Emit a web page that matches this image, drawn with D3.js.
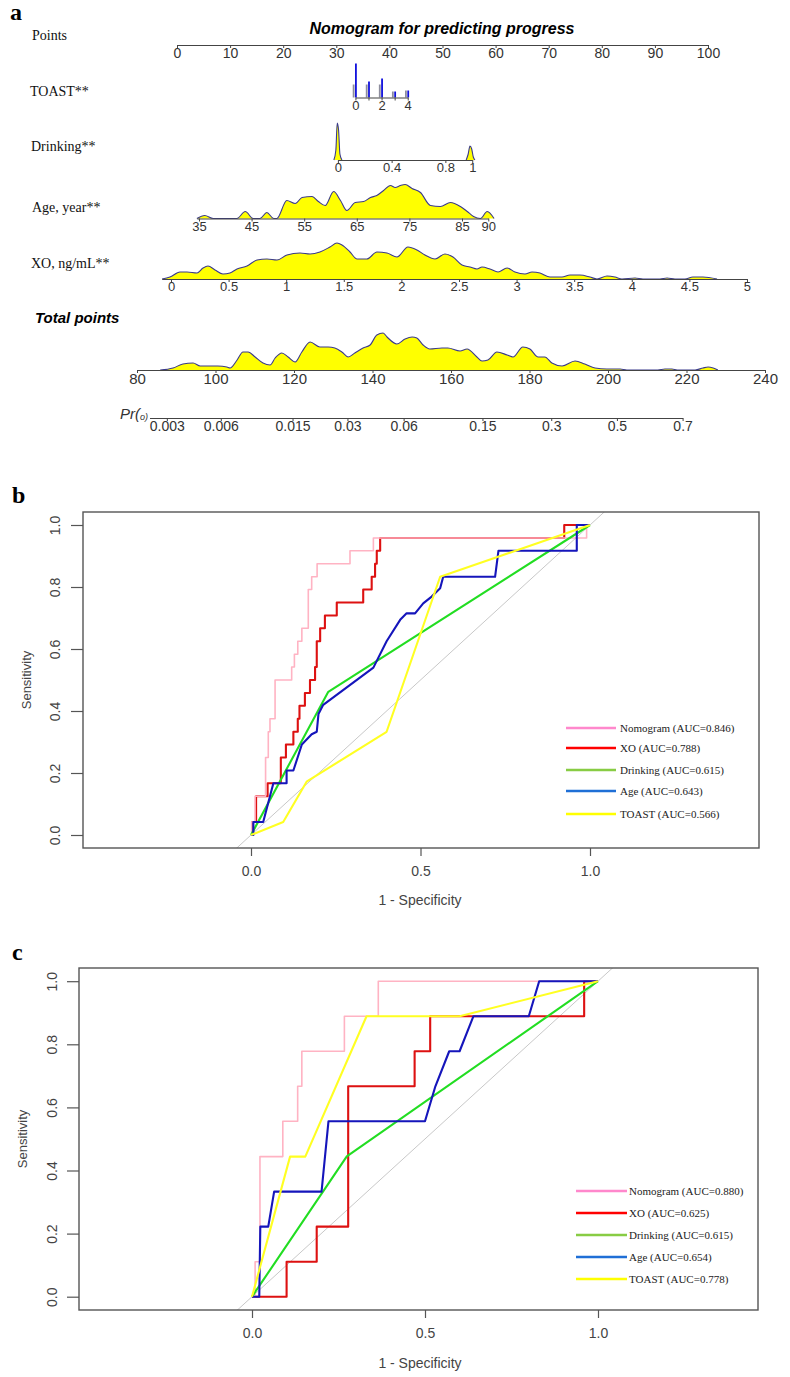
<!DOCTYPE html>
<html><head><meta charset="utf-8">
<script src="https://cdn.jsdelivr.net/npm/d3@7"></script>
<style>body{margin:0;background:#fff}svg{display:block}</style>
</head><body>
<script>
// ================= DATA =================
// --- Nomogram (panel a) ---
const pointsTicks = [0,10,20,30,40,50,60,70,80,90,100];
const toastValues = [0,1,2,3,4];
const toastTickLabels = [0,2,4];
const toastCounts = [34,16,19,6,7];
const toastPoints = [[0,33.6],[4,43.45]];          // value -> points
const drinkingTicks = [0,0.4,0.8,1];
const drinkingPoints = [[0,30.3],[1,55.6]];
const drinkPeak0 = [[-0.03,0],[-0.015,10],[-0.005,37],[0.005,30],[0.015,6],[0.03,0]];
const drinkPeak1 = [[0.955,0],[0.97,6],[0.983,14],[0.996,11],[1.008,3],[1.02,0]];
const ageTicks = [35,45,55,65,75,85,90];
const agePoints = [[35,4.14],[85,53.67]];
const ageDensX = [34.6,36.1,37.7,42.2,43.8,45.3,46.6,47.9,49.2,49.8,51.7,53.3,54.6,56.5,57.7,59.0,60.6,61.9,63.1,64.7,66.3,67.6,68.8,70.1,71.4,72.3,73.3,74.2,75.5,77.1,79.0,80.9,82.8,84.7,86.0,87.2,88.5,89.8,91.1];
const ageDensY = [0,3,0,0,7,0,0,6,0,0,18,15,21,22,17,13,27,18,8,16,17,21,23,28,33,31,33,34,30,26,13,12,16,12,7,2,0,7,0];
const xoTicks = [0,0.5,1,1.5,2,2.5,3,3.5,4,4.5,5];
const xoPoints = [[0,-1.13],[5,107.34]];
const xoDensX = [-0.078,-0.009,0.078,0.139,0.226,0.278,0.321,0.382,0.451,0.512,0.573,0.66,0.747,0.833,0.92,1.007,1.12,1.207,1.293,1.38,1.441,1.484,1.554,1.615,1.701,1.788,1.875,1.962,2.057,2.135,2.205,2.292,2.378,2.448,2.526,2.595,2.656,2.7,2.769,2.839,2.917,2.986,3.073,3.134,3.203,3.29,3.394,3.464,3.55,3.637,3.698,3.785,3.854,3.915,4.028,4.097,4.245,4.306,4.375,4.462,4.531,4.618,4.74];
const xoDensY = [0,2,7,7,6,11,13,9,5,6,10,13,19,20,19,24,26,25,27,32,36,34,27,20,20,27,26,22,32,29,24,20,25,22,14,12,10,12,10,7,11,7,5,7,6,2,2,4,4,2,0,3,2,0,1,0,0,1,0,0,2,2,0];
const totalTicks = [80,100,120,140,160,180,200,220,240];
const totDensX = [85.9,89.2,91.7,94.3,96.1,98.6,100.6,102.9,103.7,105.5,107,108.3,110.1,112.1,113.9,115.2,116.9,118.5,120.3,122,124.1,126.6,128.7,130.4,132.2,133.8,135.5,137.6,139.4,141.1,142.7,143.7,146.2,148.3,150.1,151.3,152.9,154.6,157.7,159.2,162.3,164.1,166.6,167.9,169.4,171.7,174.3,175.8,178.3,180.1,182.2,183.9,185.7,188.3,191.6,194.1,196.7,199.7,203.1,204.8,212.7,214.5,216.3,217.6,222.2,224.2,225.5,226.8,228];
const totDensY = [0,2,6,7,4,4,4,3,2,10,18,18,13,7,5,12,17,13,8,18,28,23,23,22,18,13,17,22,25,35,37,33,26,31,33,32,25,21,22,22,19,21,13,9,10,18,15,13,23,21,13,13,7,4,9,6,2,1,1,0,0,1,1,0,0,2,3,2,0];
const prTicks = [0.003,0.006,0.015,0.03,0.06,0.15,0.3,0.5,0.7];
const prAnchorTotal = 87.6;   // total points where Pr = 0.003
const prPointsPerLogit = 19.75;

// --- ROC panel b (training) ---
const rocTicksX = [0,0.5,1];
const rocTicksY = [0,0.2,0.4,0.6,0.8,1];
const nomoB = [[0,0],[0.002,0],[0.002,0.042],[0.012,0.042],[0.012,0.125],[0.043,0.125],[0.043,0.25],[0.051,0.25],[0.051,0.333],[0.056,0.333],[0.056,0.375],[0.071,0.375],[0.071,0.5],[0.12,0.5],[0.12,0.542],[0.128,0.542],[0.128,0.583],[0.138,0.583],[0.138,0.625],[0.15,0.625],[0.15,0.667],[0.169,0.667],[0.169,0.792],[0.179,0.792],[0.179,0.833],[0.195,0.833],[0.195,0.875],[0.292,0.875],[0.292,0.917],[0.361,0.917],[0.361,0.958],[0.99,0.958],[0.99,1],[1,1]];
const xoB = [[0,0],[0.004,0],[0.004,0.042],[0.015,0.042],[0.015,0.125],[0.049,0.125],[0.049,0.167],[0.088,0.167],[0.088,0.25],[0.103,0.25],[0.103,0.292],[0.125,0.292],[0.125,0.333],[0.138,0.333],[0.138,0.375],[0.143,0.375],[0.143,0.417],[0.159,0.417],[0.159,0.458],[0.174,0.458],[0.174,0.5],[0.189,0.5],[0.189,0.542],[0.194,0.542],[0.194,0.625],[0.204,0.625],[0.204,0.667],[0.218,0.667],[0.218,0.708],[0.253,0.708],[0.253,0.75],[0.331,0.75],[0.331,0.792],[0.356,0.792],[0.356,0.833],[0.366,0.833],[0.366,0.875],[0.371,0.875],[0.371,0.917],[0.381,0.917],[0.381,0.958],[0.924,0.958],[0.924,1],[1,1]];
const drinkingB = [[0,0],[0.228,0.462],[1,1]];
const ageB = [[0,0],[0.007,0],[0.007,0.042],[0.036,0.042],[0.066,0.167],[0.105,0.167],[0.105,0.208],[0.125,0.208],[0.15,0.292],[0.179,0.325],[0.194,0.333],[0.199,0.39],[0.213,0.42],[0.361,0.54],[0.4,0.625],[0.44,0.694],[0.459,0.715],[0.484,0.715],[0.508,0.747],[0.533,0.769],[0.558,0.796],[0.567,0.833],[0.72,0.833],[0.73,0.917],[0.961,0.917],[0.961,1],[1,1]];
const toastB = [[0,0],[0.095,0.042],[0.164,0.172],[0.4,0.333],[0.558,0.833],[1,1]];
const legendB = ["Nomogram (AUC=0.846)","XO (AUC=0.788)","Drinking (AUC=0.615)","Age (AUC=0.643)","TOAST (AUC=0.566)"];

// --- ROC panel c (validation) ---
const nomoC = [[0,0],[0.009,0],[0.009,0.111],[0.023,0.111],[0.023,0.444],[0.089,0.444],[0.089,0.556],[0.132,0.556],[0.132,0.667],[0.144,0.667],[0.144,0.778],[0.267,0.778],[0.267,0.889],[0.365,0.889],[0.365,1],[1,1]];
const xoC = [[0,0],[0.1,0],[0.1,0.111],[0.187,0.111],[0.187,0.222],[0.278,0.222],[0.278,0.667],[0.47,0.667],[0.47,0.778],[0.515,0.778],[0.515,0.889],[0.96,0.889],[0.96,1],[1,1]];
const drinkingC = [[0,0],[0.274,0.445],[1,1]];
const ageC = [[0,0],[0.021,0],[0.024,0.222],[0.047,0.222],[0.064,0.333],[0.201,0.333],[0.221,0.556],[0.5,0.556],[0.53,0.667],[0.57,0.778],[0.6,0.778],[0.64,0.889],[0.8,0.889],[0.83,1],[1,1]];
const toastC = [[0,0],[0.11,0.444],[0.154,0.444],[0.331,0.889],[0.6,0.889],[1,1]];
const legendC = ["Nomogram (AUC=0.880)","XO (AUC=0.625)","Drinking (AUC=0.615)","Age (AUC=0.654)","TOAST (AUC=0.778)"];

const curveColors = ["#ffb3c3","#dd1111","#22dd22","#1515bb","#ffff22"];
const legendColors = ["#ff88cc","#ff0000","#88cc44","#1f6fd6","#ffff00"];

// ================= DRAW =================
const W = 790, H = 1377;
const svg = d3.select("body").append("svg").attr("width", W).attr("height", H);
const SANS = "Arial, 'Liberation Sans', sans-serif";
const SERIF = "'Times New Roman', 'Liberation Serif', serif";

// panel letters
[["a",10,20],["b",12,503],["c",12,960]].forEach(([t,x,y]) =>
  svg.append("text").attr("x",x).attr("y",y).text(t)
    .attr("font-family",SERIF).attr("font-weight","bold").attr("font-size",24));

// ---------- Nomogram ----------
const pX = d3.scaleLinear().domain([0,100]).range([177,708]);
const dens = d3.scaleLinear().domain([0,40]).range([0,40]);
function varScale(map, domain){
  const toPts = d3.scaleLinear().domain([map[0][0],map[1][0]]).range([map[0][1],map[1][1]]);
  return d3.scaleLinear().domain(domain).range(domain.map(v => pX(toPts(v))));
}
function drawAxis(scale, y, ticks, fmt, fs){
  const ax = d3.axisBottom(scale).tickValues(ticks).tickFormat(fmt)
    .tickSize(3).tickSizeOuter(0).tickPadding(0);
  const g = svg.append("g").attr("transform",`translate(0,${y})`).call(ax);
  g.select(".domain").attr("stroke","#444").attr("stroke-width",1.1);
  g.selectAll(".tick line").attr("stroke","#444");
  g.selectAll(".tick text").attr("font-family",SANS).attr("font-size",fs).attr("fill","#333");
  return g;
}
function drawDensity(scale, y, pts){
  const area = d3.area().x(d=>scale(d[0])).y0(y).y1(d=>y-dens(d[1])).curve(d3.curveMonotoneX);
  const line = d3.line().x(d=>scale(d[0])).y(d=>y-dens(d[1])).curve(d3.curveMonotoneX);
  svg.append("path").attr("d",area(pts)).attr("fill","#ffff00");
  svg.append("path").attr("d",line(pts)).attr("fill","none").attr("stroke","#3a3a8c").attr("stroke-width",1.1);
}
function rowLabel(t, x, y){
  svg.append("text").attr("x",x).attr("y",y).text(t)
    .attr("font-family",SERIF).attr("font-size",14).attr("fill","#111");
}

// title
svg.append("text").attr("x",442).attr("y",34).attr("text-anchor","middle")
  .text("Nomogram for predicting progress")
  .attr("font-family",SANS).attr("font-weight","bold").attr("font-style","italic").attr("font-size",16);

// Points
rowLabel("Points",32,40);
drawAxis(pX, 45, pointsTicks, d3.format("d"), 14);

// TOAST
rowLabel("TOAST**",30,95.5);
const toastX = varScale(toastPoints,[0,4]);
const yT = 97.5;
toastValues.forEach((v,i)=>{
  const h = dens(toastCounts[i]);
  svg.append("line").attr("x1",toastX(v)-1.8).attr("x2",toastX(v)-1.8).attr("y1",yT).attr("y2",yT-Math.min(h,13))
    .attr("stroke","#8d8d9d").attr("stroke-width",1.8);
  svg.append("line").attr("x1",toastX(v)+0.5).attr("x2",toastX(v)+0.5).attr("y1",yT).attr("y2",yT-h)
    .attr("stroke","#1010dd").attr("stroke-width",1.8);
});
drawAxis(toastX, yT, toastValues, d=>toastTickLabels.includes(d)?d:"", 13);

// Drinking
rowLabel("Drinking**",31,151);
const drinkX = varScale(drinkingPoints,[0,1]);
const yD = 160;
drawDensity(drinkX, yD, drinkPeak0);
drawDensity(drinkX, yD, drinkPeak1);
drawAxis(drinkX, yD, drinkingTicks, d=>d, 13);

// Age
rowLabel("Age, year**",32,211.5);
const ageX = varScale(agePoints,[34.6,90]);
const yA = 218.5;
drawDensity(ageX, yA, ageDensX.map((v,i)=>[v,ageDensY[i]]));
drawAxis(ageX, yA, ageTicks, d3.format("d"), 13);

// XO
rowLabel("XO, ng/mL**",31,268);
const xoX = varScale(xoPoints,[-0.08,5]);
const yX = 279;
drawDensity(xoX, yX, xoDensX.map((v,i)=>[v,xoDensY[i]]));
drawAxis(xoX, yX, xoTicks, d=>d, 13);

// Total points
svg.append("text").attr("x",35).attr("y",323).text("Total points")
  .attr("font-family",SANS).attr("font-weight","bold").attr("font-style","italic").attr("font-size",15);
const totX = d3.scaleLinear().domain([80,240]).range([137,765]);
const yTot = 370;
drawDensity(totX, yTot, totDensX.map((v,i)=>[v,totDensY[i]]));
drawAxis(totX, yTot, totalTicks, d3.format("d"), 15);

// Pr
const logit = p => Math.log(p/(1-p));
const prToTotal = p => prAnchorTotal + prPointsPerLogit*(logit(p)-logit(prTicks[0]));
const prX = d3.scaleLinear().domain([logit(0.0024), logit(0.7)]).range([totX(prToTotal(0.0024)), totX(prToTotal(0.7))]);
const yPr = 418;
const prG = svg.append("g").attr("transform",`translate(0,${yPr})`)
  .call(d3.axisBottom(prX).tickValues(prTicks.map(logit)).tickFormat((d,i)=>prTicks[i]).tickSize(3).tickSizeOuter(0).tickPadding(0));
prG.select(".domain").attr("stroke","#444").attr("stroke-width",1.1);
prG.selectAll(".tick line").attr("stroke","#444");
prG.selectAll(".tick text").attr("font-family",SANS).attr("font-size",14).attr("fill","#333");
const prLab = svg.append("text").attr("x",120).attr("y",419)
  .attr("font-family",SANS).attr("font-style","italic").attr("font-size",15).attr("fill","#333");
prLab.append("tspan").text("Pr(");
prLab.append("tspan").attr("font-size",9).attr("dy",1).text("o)");

// ---------- ROC panels ----------
function rocPanel(cfg){
  const {box, x0, x1, y0, y1, curves, legend, leg} = cfg;
  const x = d3.scaleLinear().domain([0,1]).range([x0,x1]);
  const y = d3.scaleLinear().domain([0,1]).range([y0,y1]);
  const clipId = "clip"+cfg.id;
  svg.append("clipPath").attr("id",clipId).append("rect")
    .attr("x",box[0]).attr("y",box[1]).attr("width",box[2]-box[0]).attr("height",box[3]-box[1]);
  const gc = svg.append("g").attr("clip-path",`url(#${clipId})`);
  const line = d3.line().x(d=>x(d[0])).y(d=>y(d[1]));
  gc.append("path").attr("d",line([[-0.2,-0.2],[1.2,1.2]])).attr("stroke","#c8c8c8").attr("stroke-width",1).attr("fill","none");
  const order = [1,0,2,3,4];
  order.forEach(i=>{
    gc.append("path").attr("d",line(curves[i])).attr("fill","none")
      .attr("stroke",curveColors[i]).attr("stroke-width", i===0?1.6:2.1).attr("stroke-linejoin","round");
  });
  // frame
  svg.append("rect").attr("x",box[0]).attr("y",box[1]).attr("width",box[2]-box[0]).attr("height",box[3]-box[1])
    .attr("fill","none").attr("stroke","#555").attr("stroke-width",1.4);
  // x axis
  const gx = svg.append("g").attr("transform",`translate(0,${box[3]})`)
    .call(d3.axisBottom(x).tickValues(rocTicksX).tickFormat(d3.format(".1f")).tickSize(8).tickSizeOuter(0).tickPadding(10));
  gx.select(".domain").remove();
  gx.selectAll(".tick line").attr("stroke","#555").attr("stroke-width",1.2);
  gx.selectAll(".tick text").attr("font-family",SANS).attr("font-size",14).attr("fill","#444");
  // y axis
  const gy = svg.append("g").attr("transform",`translate(${box[0]},0)`)
    .call(d3.axisLeft(y).tickValues(rocTicksY).tickFormat(d3.format(".1f")).tickSize(12).tickSizeOuter(0));
  gy.select(".domain").remove();
  gy.selectAll(".tick line").attr("stroke","#555").attr("stroke-width",1.2);
  gy.selectAll(".tick text").attr("font-family",SANS).attr("font-size",14).attr("fill","#444")
    .attr("transform","rotate(-90)").attr("x",0).attr("y",-cfg.yLabOff).attr("dy",0).attr("text-anchor","middle");
  // axis titles
  svg.append("text").attr("transform",`translate(${cfg.sensX},${(y0+y1)/2+cfg.sensDy}) rotate(-90)`)
    .attr("text-anchor","middle").text("Sensitivity")
    .attr("font-family",SANS).attr("font-size",13).attr("fill","#444");
  svg.append("text").attr("x",cfg.specX).attr("y",cfg.specY).attr("text-anchor","middle").text("1 - Specificity")
    .attr("font-family",SANS).attr("font-size",14).attr("fill","#444");
  // legend
  legend.forEach((t,i)=>{
    const yy = leg.ys[i];
    svg.append("line").attr("x1",leg.x1).attr("x2",leg.x2).attr("y1",yy).attr("y2",yy)
      .attr("stroke",legendColors[i]).attr("stroke-width",2.4);
    svg.append("text").attr("x",leg.tx).attr("y",yy+4).text(t)
      .attr("font-family",SERIF).attr("font-size",11).attr("fill","#222");
  });
}

rocPanel({id:"b", box:[83,512,759,848], x0:251, x1:590, y0:835, y1:525,
  curves:[nomoB,xoB,drinkingB,ageB,toastB], legend:legendB,
  leg:{x1:566,x2:616,tx:620,ys:[728,748,770,791,814]},
  yLabOff:23, sensX:31, sensDy:0, specX:420, specY:905});
rocPanel({id:"c", box:[79,968,758,1310], x0:252, x1:598, y0:1296.7, y1:981.2,
  curves:[nomoC,xoC,drinkingC,ageC,toastC], legend:legendC,
  leg:{x1:576,x2:627,tx:629,ys:[1191,1213,1235,1257,1279]},
  yLabOff:22, sensX:27, sensDy:0, specX:420, specY:1368});
</script>
</body></html>
